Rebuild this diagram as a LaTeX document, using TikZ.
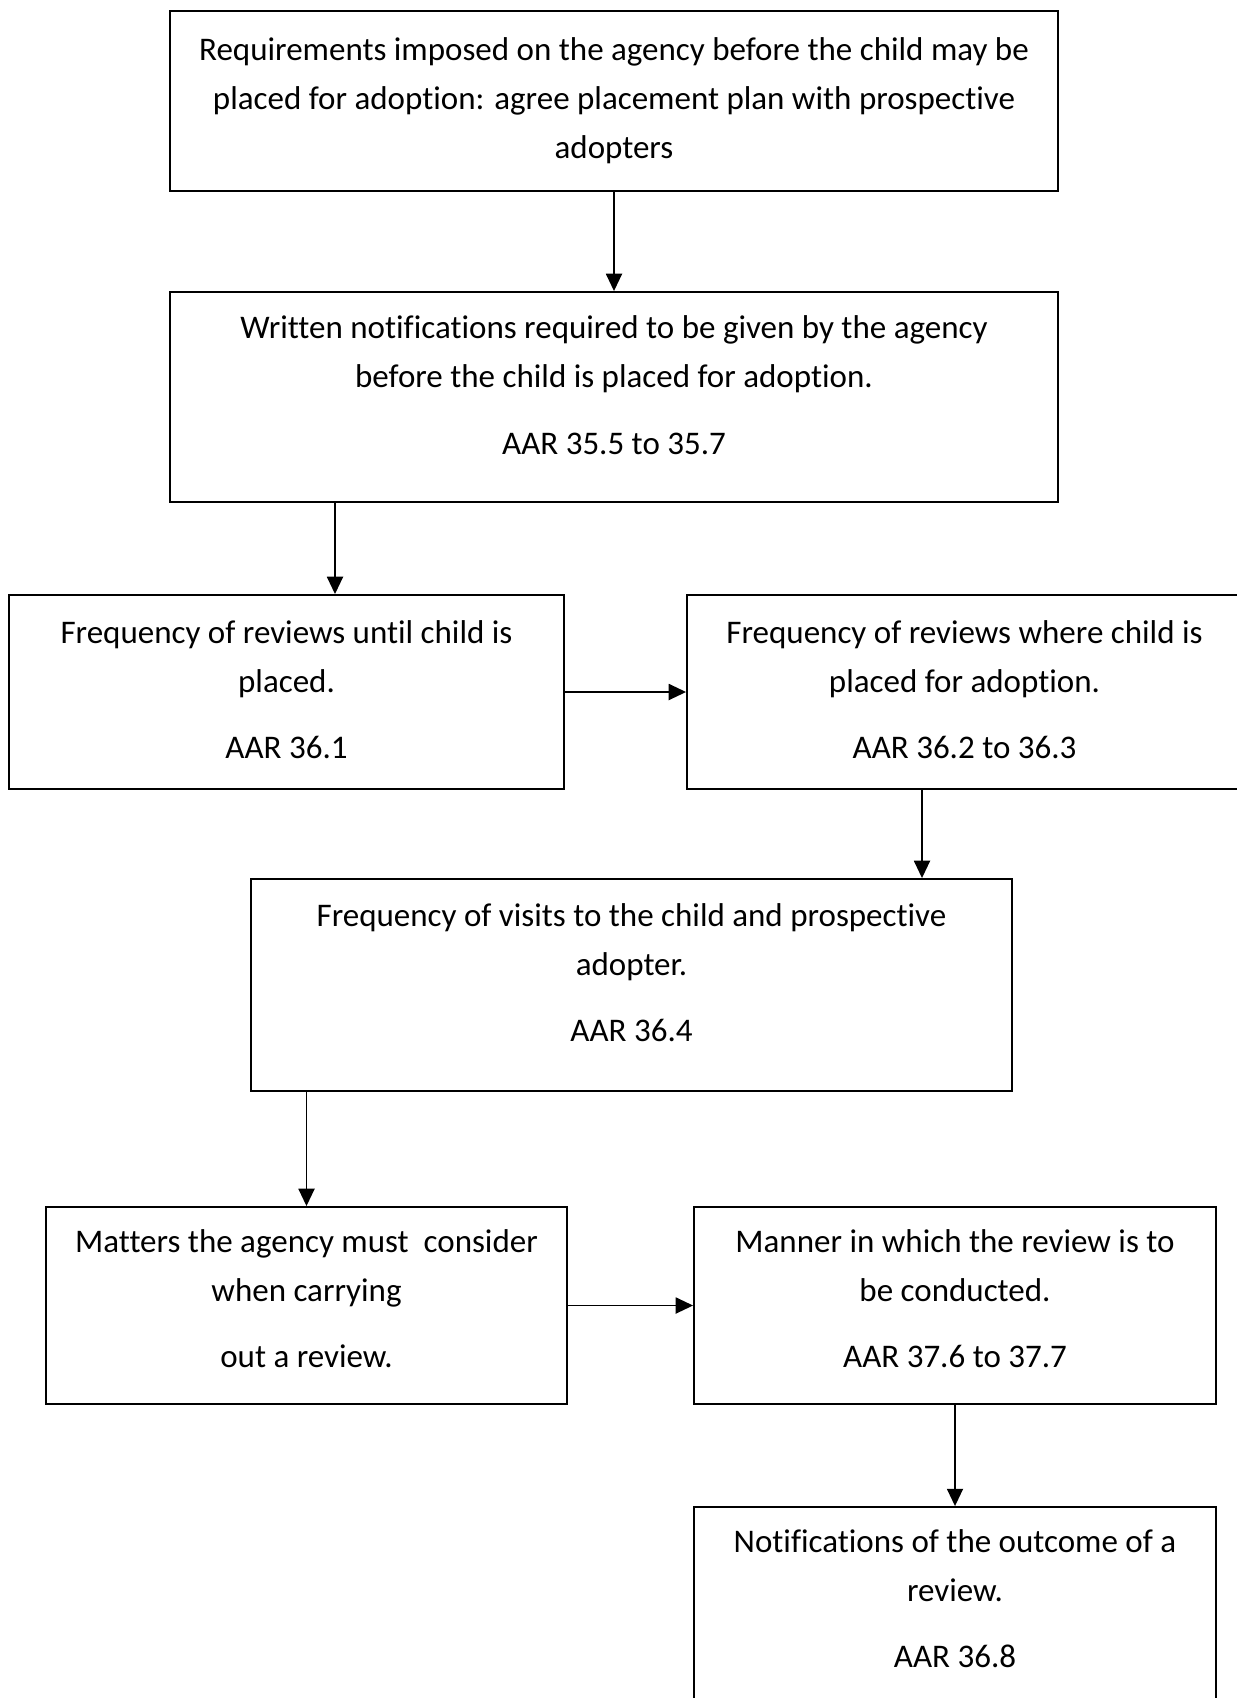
\documentclass[tikz,border=0pt]{standalone}
\usepackage{fontspec}
\setmainfont{Carlito}[Ligatures=NoCommon]
\usetikzlibrary{arrows.meta,calc}

\newcommand{\padbelow}[1]{\rule[-#1]{0pt}{#1}}

\tikzset{every picture/.style={line width=1.4pt}}
\tikzset{
  stepbox/.style={draw, rectangle, inner sep=0pt, align=center, font=\fontsize{24.75}{36.75}\selectfont},
  flowarrow/.style={-{Triangle[length=13pt,width=12pt]}}
}

\begin{document}
\begin{tikzpicture}[x=0.75pt,y=0.75pt,yscale=-1,xscale=1]
	\useasboundingbox (0,0) rectangle (1237,1698);
	\clip (0,0) rectangle (1237,1698);
	
	%Shape: Rectangle [id:req]
	\node [stepbox, minimum width=666pt, minimum height=135pt] (req) at (614,101)
	  {Requirements imposed on the agency before the child may be\\placed for adoption: agree placement plan with prospective\\adopters\padbelow{4pt}};
	%Shape: Rectangle [id:notify]
	\node [stepbox, minimum width=666pt, minimum height=157.5pt] (notify) at (614,397)
	  {Written notifications required to be given by the agency\\before the child is placed for adoption.\\[13pt]AAR 35.5 to 35.7\padbelow{18pt}};
	%Shape: Rectangle [id:until]
	\node [stepbox, minimum width=416.25pt, minimum height=145.5pt] (until) at (286.5,692)
	  {Frequency of reviews until child is\\placed.\\[13pt]AAR 36.1\padbelow{4pt}};
	%Shape: Rectangle [id:placed]
	\node [stepbox, minimum width=416.25pt, minimum height=145.5pt] (placed) at (964.5,692)
	  {Frequency of reviews where child is\\placed for adoption.\\[13pt]AAR 36.2 to 36.3\padbelow{4pt}};
	%Shape: Rectangle [id:visits]
	\node [stepbox, minimum width=570.75pt, minimum height=159pt] (visits) at (631.5,985)
	  {Frequency of visits to the child and prospective\\adopter.\\[13pt]AAR 36.4\padbelow{19pt}};
	%Shape: Rectangle [id:matters]
	\node [stepbox, minimum width=390.75pt, minimum height=147.75pt] (matters) at (306.5,1305.5)
	  {Matters the agency must\ \ consider\\when carrying\\[13pt]out a review.\padbelow{10pt}};
	%Shape: Rectangle [id:manner]
	\node [stepbox, minimum width=391.5pt, minimum height=147.75pt] (manner) at (955,1305.5)
	  {Manner in which the review is to\\be conducted.\\[13pt]AAR 37.6 to 37.7\padbelow{10pt}};
	%Shape: Rectangle [id:outcome]
	\node [stepbox, minimum width=391.5pt, minimum height=147.75pt] (outcome) at (955,1605.5)
	  {Notifications of the outcome of a\\review.\\[13pt]AAR 36.8\padbelow{10pt}};
	
	%Straight Lines [id:drops]
	\coordinate (drop3) at ($(until.north)+(48.5,0)$);
	\coordinate (drop5) at ($(visits.north)+(290.5,0)$);
	
	\draw [flowarrow] (req.south) -- (notify.north);
	\draw [flowarrow] (drop3 |- notify.south) -- (drop3);
	\draw [flowarrow] (until.east) -- (placed.west);
	\draw [flowarrow] (drop5 |- placed.south) -- (drop5);
	\draw [flowarrow] (matters.north |- visits.south) -- (matters.north);
	\draw [flowarrow] (matters.east) -- (manner.west);
	\draw [flowarrow] (manner.south) -- (outcome.north);
	
\end{tikzpicture}
\end{document}
